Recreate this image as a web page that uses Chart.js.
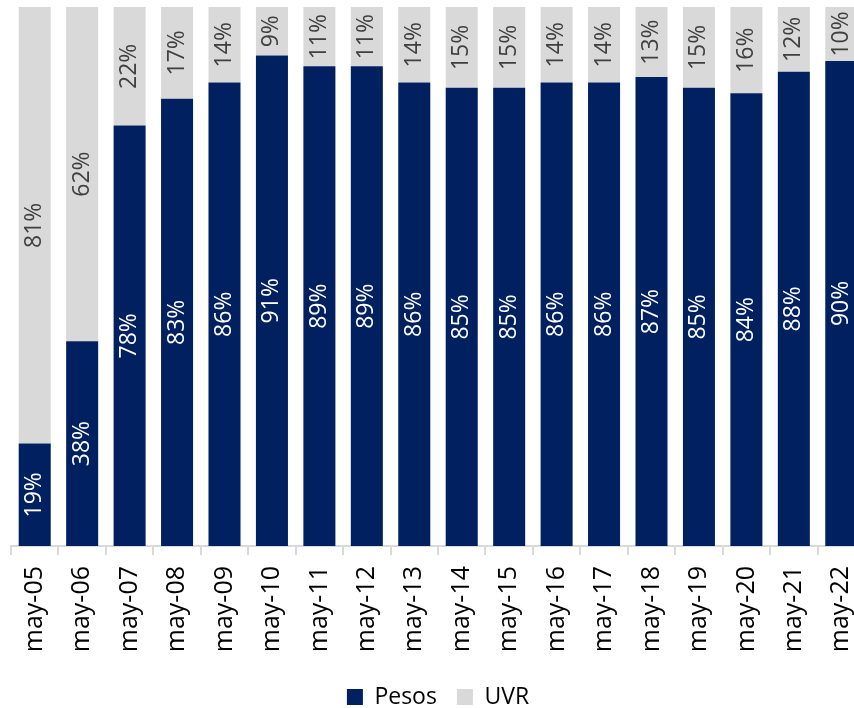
<!DOCTYPE html>
<html>
<head>
<meta charset="utf-8">
<script src="https://cdn.jsdelivr.net/npm/chart.js@4.4.1/dist/chart.umd.min.js"></script>
<style>
html,body{margin:0;padding:0;background:#fff;overflow:hidden;}
#wrap{width:866px;height:708px;position:relative;}
</style>
</head>
<body>
<div id="wrap"><canvas id="c"></canvas></div>
<script>
const categories = ["may-05","may-06","may-07","may-08","may-09","may-10","may-11","may-12","may-13","may-14","may-15","may-16","may-17","may-18","may-19","may-20","may-21","may-22"];
const pesos = [19,38,78,83,86,91,89,89,86,85,85,86,86,87,85,84,88,90];
const uvr   = [81,62,22,17,14,9,11,11,14,15,15,14,14,13,15,16,12,10];
const seriesNames = ["Pesos","UVR"];
const labelColors = ["#ffffff","#404040"];

const FONT = "'Open Sans', 'Noto Sans', sans-serif";
const CANVAS_H = 708, AXIS_Y = 546, LEGEND_CY = 692;

const barLabels = {
  id: 'barLabels',
  afterDatasetsDraw(chart) {
    const ctx = chart.ctx;
    chart.data.datasets.forEach((ds, di) => {
      const meta = chart.getDatasetMeta(di);
      meta.data.forEach((el, i) => {
        const v = ds.data[i];
        const cy = (el.y + el.base) / 2;
        ctx.save();
        ctx.translate(el.x, cy);
        ctx.rotate(-Math.PI / 2);
        ctx.font = "23px " + FONT;
        ctx.fillStyle = labelColors[di];
        ctx.textAlign = 'center';
        ctx.textBaseline = 'middle';
        ctx.fillText(v + '%', 0, 0);
        ctx.restore();
      });
    });
  }
};

const legendShift = {
  id: 'legendShift',
  afterLayout(chart) {
    const lg = chart.legend;
    if (!lg) return;
    const h = lg.height;
    lg.top = LEGEND_CY - h / 2;
    lg.bottom = lg.top + h;
  }
};

new Chart(document.getElementById('c'), {
  type: 'bar',
  data: {
    labels: categories,
    datasets: [
      { label: seriesNames[0], data: pesos, backgroundColor: '#002060', borderWidth: 0 },
      { label: seriesNames[1], data: uvr, backgroundColor: '#d9d9d9', borderWidth: 0 }
    ]
  },
  options: {
    responsive: true,
    maintainAspectRatio: false,
    animation: false,
    layout: { padding: { left: 11, right: 1, top: 7, bottom: 0 } },
    datasets: { bar: { barPercentage: 1, categoryPercentage: 0.675 } },
    scales: {
      x: {
        stacked: true,
        afterFit(scale) {
          const lh = scale.chart.legend ? scale.chart.legend.height : 0;
          scale.height = CANVAS_H - AXIS_Y - lh;
          scale.paddingLeft = 0;
          scale.paddingRight = 0;
        },
        grid: { offset: true, drawOnChartArea: false, color: '#d9d9d9', tickLength: 9, lineWidth: 2 },
        border: { color: '#d9d9d9', width: 2 },
        ticks: { minRotation: 90, maxRotation: 90, color: '#000', font: { size: 25, family: FONT }, padding: 11 }
      },
      y: { stacked: true, display: false, min: 0, max: 100 }
    },
    plugins: {
      legend: {
        position: 'bottom',
        labels: { boxWidth: 16, boxHeight: 16, color: '#000', font: { size: 23, family: FONT }, padding: 20 }
      },
      tooltip: { enabled: false }
    }
  },
  plugins: [barLabels, legendShift]
});
</script>
</body>
</html>
